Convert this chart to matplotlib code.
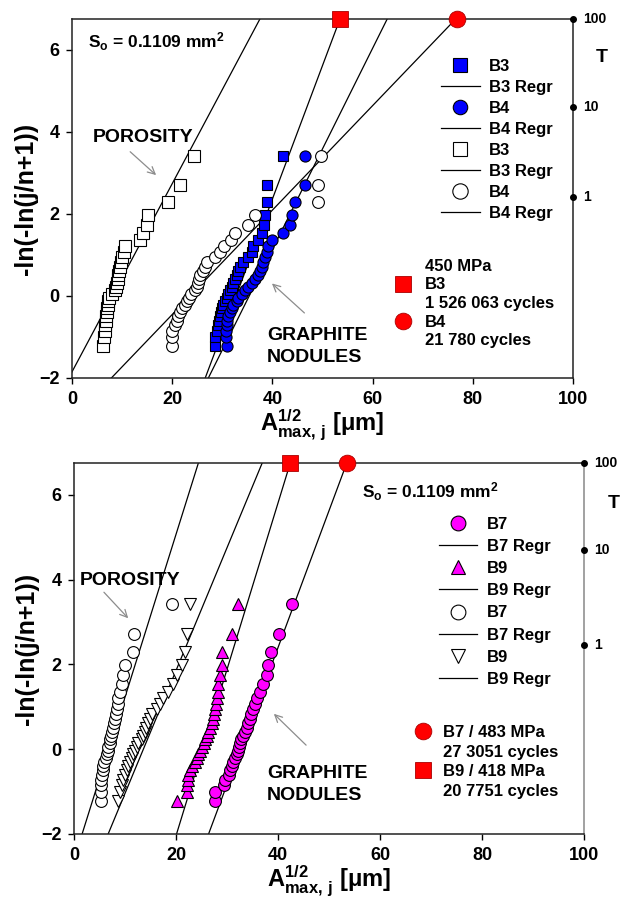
import numpy as np
import matplotlib
matplotlib.use('Agg')
import matplotlib.pyplot as plt
from matplotlib.lines import Line2D

plt.rcParams['font.family'] = ['Liberation Sans', 'DejaVu Sans']
plt.rcParams['font.weight'] = 'bold'
plt.rcParams['mathtext.fontset'] = 'custom'
plt.rcParams['mathtext.rm'] = 'Liberation Sans'
plt.rcParams['mathtext.bf'] = 'Liberation Sans:bold'
plt.rcParams['mathtext.it'] = 'Liberation Sans:italic'

# ---------------- data ----------------
# ordinate of the 30 ranked points
y_rank = [-1.23, -1.01, -0.85, -0.72, -0.60, -0.50, -0.40, -0.30, -0.21, -0.12,
          -0.04, 0.05, 0.14, 0.23, 0.32, 0.41, 0.51, 0.61, 0.71, 0.83,
          0.94, 1.07, 1.21, 1.36, 1.54, 1.74, 1.98, 2.29, 2.71, 3.42]

# top panel: 450 MPa, B3 / B4
b3_pores = [6.2, 6.4, 6.5, 6.6, 6.7, 6.8, 6.9, 7.0, 7.1, 7.2,
            7.4, 8.0, 8.6, 8.8, 8.9, 9.1, 9.2, 9.4, 9.6, 9.8,
            10.0, 10.3, 10.6, 13.6, 14.2, 14.9, 15.2, 19.2, 21.6, 24.4]
b4_pores = [19.9, 19.9, 20.0, 20.5, 20.9, 21.2, 21.6, 21.9, 22.5, 22.9,
            23.3, 23.7, 24.6, 24.9, 25.2, 25.4, 25.6, 26.1, 26.5, 27.0,
            28.5, 29.5, 30.3, 31.8, 32.5, 35.2, 36.5, 49.2, 49.2, 49.8]
b3_nodules = [28.5, 28.6, 28.9, 29.1, 29.3, 29.5, 29.7, 29.9, 30.2, 30.5,
              30.9, 31.2, 31.5, 31.9, 32.2, 32.5, 32.9, 33.2, 33.5, 34.2,
              35.2, 35.9, 36.2, 37.2, 37.9, 38.4, 38.5, 38.9, 38.9, 42.2]
b4_nodules = [30.9, 30.8, 30.8, 30.9, 31.0, 31.2, 31.5, 31.9, 32.2, 32.9,
              33.2, 33.9, 34.5, 35.2, 35.9, 36.5, 37.2, 37.5, 37.9, 38.2,
              38.5, 38.9, 39.2, 39.9, 42.2, 43.5, 44.0, 44.5, 46.5, 46.5]
# regression lines  y = a + b*x  (B3 Regr, B4 Regr, B3 Regr, B4 Regr)
top_reg_a = [-10.65, -8.67, -1.85, -3.00]
top_reg_b = [0.3253, 0.2451, 0.2293, 0.1273]
# predicted maximum (red) at the top edge: B3, B4
top_pred_x = [53.5, 76.8]
top_T_pos = [6.75, 4.61, 2.41]

# bottom panel: B7 (483 MPa) / B9 (418 MPa)
b7_nodules = [27.6, 27.6, 29.4, 29.6, 30.3, 30.6, 30.9, 31.2, 31.6, 31.9,
              32.2, 32.4, 32.5, 32.7, 33.2, 33.5, 33.9, 34.2, 34.5, 34.7,
              35.0, 35.5, 35.8, 36.5, 37.1, 37.8, 38.0, 38.6, 40.1, 42.7]
b9_nodules = [20.1, 22.1, 22.1, 22.4, 22.4, 22.7, 23.1, 23.7, 24.1, 24.4,
              24.7, 25.0, 25.4, 25.7, 26.0, 26.3, 26.7, 27.0, 27.3, 27.5,
              27.6, 27.8, 28.0, 28.2, 28.3, 28.6, 29.1, 29.1, 30.9, 32.2]
b7_pores = [5.2, 5.3, 5.3, 5.3, 5.4, 5.6, 5.75, 5.9, 6.3, 6.4,
            6.6, 6.7, 7.0, 7.1, 7.3, 7.4, 7.7, 7.9, 8.0, 8.2,
            8.4, 8.6, 8.7, 9.0, 9.35, 9.7, 10.0, 11.6, 11.8, 19.2]
b9_pores = [8.7, 9.0, 9.4, 9.7, 10.0, 10.3, 10.6, 11.0, 11.3, 11.6,
            12.0, 12.3, 12.6, 13.3, 13.6, 13.9, 14.2, 14.6, 14.9, 15.2,
            16.2, 16.9, 17.5, 18.5, 19.5, 20.1, 21.1, 21.8, 22.1, 22.7]
# (B7 Regr, B9 Regr, B7 Regr, B9 Regr)
bot_reg_a = [-10.52, -9.89, -2.61, -3.94]
bot_reg_b = [0.3229, 0.3924, 0.3838, 0.2897]
# predicted maximum (red): B7 circle, B9 square
bot_pred_x = [53.5, 42.4]
bot_T_pos = [6.75, 4.69, 2.45]

T_labels = ['100', '10', '1']
x_ticks = [0, 20, 40, 60, 80, 100]
y_ticks = [-2, 0, 2, 4, 6]
XMIN, XMAX, YMIN, YMAX = 0, 100, -2, 6.75

BLUE = '#0000FF'
MAG = '#FF00FF'
RED = '#FF0000'
ARROW = '#8c8c8c'

fig = plt.figure(figsize=(6.27, 9.02), dpi=100)
W, H = 627, 902
ax1 = fig.add_axes([72 / W, 1 - 378 / H, (573 - 72) / W, (378 - 19) / H])
ax2 = fig.add_axes([74 / W, 1 - 834 / H, (584 - 74) / W, (834 - 463) / H])


def setup(ax):
    ax.set_xlim(XMIN, XMAX)
    ax.set_ylim(YMIN, YMAX)
    ax.set_xticks(x_ticks)
    ax.set_yticks(y_ticks)
    ax.tick_params(direction='out', length=4, width=1, labelsize=13, pad=5)
    for lab in ax.get_xticklabels() + ax.get_yticklabels():
        lab.set_fontweight('bold')
    for s in ax.spines.values():
        s.set_linewidth(1.1)
        s.set_color('#222222')
    ax.set_xlabel(r'$\mathbf{A}^{\mathbf{1/2}}_{\mathrm{max,\,j}}$ [μm]',
                  fontsize=17, fontweight='bold', labelpad=0)
    ax.set_ylabel('-ln(-ln(j/n+1))', fontsize=18, fontweight='bold')
    ax.yaxis.set_label_coords(-0.068, 0.5)


def reg_line(ax, a, b):
    ys = np.array([YMIN, YMAX])
    xs = (ys - a) / b
    ln, = ax.plot(xs, ys, color='k', lw=0.9, zorder=2)
    return ln


def T_axis(ax, pos):
    tr = ax.get_yaxis_transform()
    ax.plot(np.ones(len(pos)), pos, 'o', color='k', ms=4, transform=tr,
            clip_on=False, zorder=6)
    for p, lab in zip(pos, T_labels):
        ax.text(1.02, p, lab, transform=tr, fontsize=10, fontweight='bold',
                va='center', ha='left')
    ax.text(1.058, pos[0] - 0.95, 'T', transform=tr, fontsize=14,
            fontweight='bold', va='center', ha='center')


mk = dict(mec='k', mew=0.8, ls='none', zorder=4)
blank = Line2D([], [], ls='none', marker='none')

# ---------------- top panel ----------------
setup(ax1)
regs1 = [reg_line(ax1, a, b) for a, b in zip(top_reg_a, top_reg_b)]
h_b3n, = ax1.plot(b3_nodules, y_rank, 's', mfc=BLUE, ms=7.5, **mk)
h_b4n, = ax1.plot(b4_nodules, y_rank, 'o', mfc=BLUE, ms=8, **mk)
h_b3p, = ax1.plot(b3_pores, y_rank, 's', mfc='white', ms=8, **mk)
h_b4p, = ax1.plot(b4_pores, y_rank, 'o', mfc='white', ms=8.5, **mk)
ax1.plot(top_pred_x[:1], [YMAX], 's', mfc=RED, mec='#aa0000', mew=0.6,
         ms=12, clip_on=False, zorder=7)
ax1.plot(top_pred_x[1:], [YMAX], 'o', mfc=RED, mec='#aa0000', mew=0.6,
         ms=12, clip_on=False, zorder=7)
T_axis(ax1, top_T_pos)

ax1.text(3.2, 6.05, r'$\mathbf{S}_{\mathbf{o}}$ = 0.1109 mm$^{\mathbf{2}}$',
         fontsize=12.5, fontweight='bold', va='baseline')
ax1.text(4.2, 3.76, 'POROSITY', fontsize=14, fontweight='bold', va='baseline')
ax1.text(38.9, -1.07, 'GRAPHITE', fontsize=14, fontweight='bold', va='baseline')
ax1.text(38.9, -1.60, 'NODULES', fontsize=14, fontweight='bold', va='baseline')
ax1.annotate('', xy=(17.2, 2.9), xytext=(11.2, 3.56),
             arrowprops=dict(arrowstyle='->', color=ARROW, lw=0.9, mutation_scale=13))
ax1.annotate('', xy=(39.5, 0.35), xytext=(46.8, -0.46),
             arrowprops=dict(arrowstyle='->', color=ARROW, lw=0.9, mutation_scale=13))

leg1 = ax1.legend([h_b3n, regs1[0], h_b4n, regs1[1], h_b3p, regs1[2], h_b4p, regs1[3]],
                  ['B3', 'B3 Regr', 'B4', 'B4 Regr', 'B3', 'B3 Regr', 'B4', 'B4 Regr'],
                  loc='upper left', bbox_to_anchor=(0.737, 0.888), frameon=False,
                  borderpad=0, borderaxespad=0, handlelength=2.3, handletextpad=0.55,
                  labelspacing=0.36, numpoints=1, markerscale=1.3,
                  prop=dict(size=12, weight='bold'))
ax1.add_artist(leg1)
sq_r = Line2D([], [], marker='s', ls='none', mfc=RED, mec='#aa0000', mew=0.6, ms=12)
ci_r = Line2D([], [], marker='o', ls='none', mfc=RED, mec='#aa0000', mew=0.6, ms=12)
ax1.legend([blank, sq_r, blank, ci_r, blank],
           ['450 MPa', 'B3', '1 526 063 cycles', 'B4', '21 780 cycles'],
           loc='upper left', bbox_to_anchor=(0.644, 0.332), frameon=False,
           borderpad=0, borderaxespad=0, handlelength=1.0, handletextpad=0.8,
           labelspacing=0.215, numpoints=1, prop=dict(size=12, weight='bold'))

# ---------------- bottom panel ----------------
setup(ax2)
regs2 = [reg_line(ax2, a, b) for a, b in zip(bot_reg_a, bot_reg_b)]
h_b7n, = ax2.plot(b7_nodules, y_rank, 'o', mfc=MAG, ms=8.5, **mk)
h_b9n, = ax2.plot(b9_nodules, y_rank, '^', mfc=MAG, ms=8.5, **mk)
h_b7p, = ax2.plot(b7_pores, y_rank, 'o', mfc='white', ms=8.5, **mk)
h_b9p, = ax2.plot(b9_pores, y_rank, 'v', mfc='white', ms=8.5, **mk)
ax2.plot(bot_pred_x[:1], [YMAX], 'o', mfc=RED, mec='#aa0000', mew=0.6,
         ms=12, clip_on=False, zorder=7)
ax2.plot(bot_pred_x[1:], [YMAX], 's', mfc=RED, mec='#aa0000', mew=0.6,
         ms=12, clip_on=False, zorder=7)
ax2.spines['right'].set_color('#888888')
T_axis(ax2, bot_T_pos)

ax2.text(56.5, 5.92, r'$\mathbf{S}_{\mathbf{o}}$ = 0.1109 mm$^{\mathbf{2}}$',
         fontsize=12.5, fontweight='bold', va='baseline')
ax2.text(1.2, 3.87, 'POROSITY', fontsize=14, fontweight='bold', va='baseline')
ax2.text(37.8, -0.68, 'GRAPHITE', fontsize=14, fontweight='bold', va='baseline')
ax2.text(37.8, -1.20, 'NODULES', fontsize=14, fontweight='bold', va='baseline')
ax2.annotate('', xy=(11.0, 3.04), xytext=(5.5, 3.75),
             arrowprops=dict(arrowstyle='->', color=ARROW, lw=0.9, mutation_scale=13))
ax2.annotate('', xy=(38.8, 0.88), xytext=(45.9, 0.05),
             arrowprops=dict(arrowstyle='->', color=ARROW, lw=0.9, mutation_scale=13))

leg2 = ax2.legend([h_b7n, regs2[0], h_b9n, regs2[1], h_b7p, regs2[2], h_b9p, regs2[3]],
                  ['B7', 'B7 Regr', 'B9', 'B9 Regr', 'B7', 'B7 Regr', 'B9', 'B9 Regr'],
                  loc='upper left', bbox_to_anchor=(0.716, 0.855), frameon=False,
                  borderpad=0, borderaxespad=0, handlelength=2.3, handletextpad=0.55,
                  labelspacing=0.43, numpoints=1, markerscale=1.25,
                  prop=dict(size=12, weight='bold'))
ax2.add_artist(leg2)
ax2.legend([ci_r, blank, sq_r, blank],
           ['B7 / 483 MPa', '27 3051 cycles', 'B9 / 418 MPa', '20 7751 cycles'],
           loc='upper left', bbox_to_anchor=(0.668, 0.294), frameon=False,
           borderpad=0, borderaxespad=0, handlelength=1.0, handletextpad=0.7,
           labelspacing=0.28, numpoints=1, prop=dict(size=12, weight='bold'))

fig.savefig('out.png', dpi=100)
